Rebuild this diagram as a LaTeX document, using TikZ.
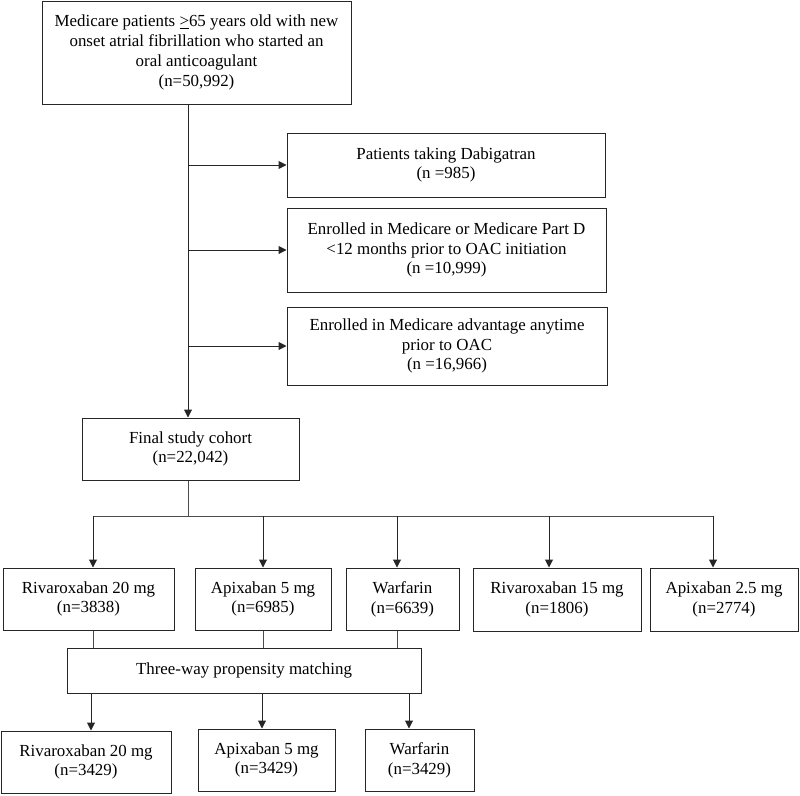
\documentclass[tikz,border=0pt]{standalone}
\usepackage{fontspec}
\setmainfont{Liberation Serif}
\usetikzlibrary{arrows.meta}
\begin{document}
\begin{tikzpicture}[x=1pt,y=-1pt,
  box/.style={draw=black!85,line width=1pt,align=center,inner sep=0pt,
    font=\fontsize{16.9}{19.8}\selectfont},
  arr/.style={draw=black!85,line width=1pt,-{Triangle[length=8pt,width=8pt]}},
  lnk/.style={draw=black!70,line width=1pt}]
\useasboundingbox (0,0) rectangle (800,795);
\newcommand{\bx}[6]{\node[box,minimum width=#4-#2,minimum height=#5-#3] (#1) at ({(#2+#4)/2},{(#3+#5)/2}) {#6};}
\bx{top}{42}{1}{351}{104}{Medicare patients \underline{>}65 years old with new\\onset atrial fibrillation who started an\\oral anticoagulant\\(n=50,992)}
\bx{ex1}{287}{133}{605}{197}{Patients taking Dabigatran\\(n =985)}
\bx{ex2}{287}{208}{606}{292}{Enrolled in Medicare or Medicare Part D\\<12 months prior to OAC initiation\\(n =10,999)}
\bx{ex3}{287}{307}{607}{385}{Enrolled in Medicare advantage anytime\\prior to OAC\\(n =16,966)}
\bx{coh}{82}{418}{299}{480}{Final study cohort\\(n=22,042)}
\bx{r20}{3}{568}{174}{630}{Rivaroxaban 20 mg\\(n=3838)}
\bx{a5}{195}{568}{331}{630}{Apixaban 5 mg\\(n=6985)}
\bx{w}{346}{568}{459}{630}{Warfarin\\(n=6639)}
\bx{r15}{473}{568}{641}{631}{Rivaroxaban 15 mg\\(n=1806)}
\bx{a25}{650}{568}{798}{631}{Apixaban 2.5 mg\\(n=2774)}
\bx{tw}{67}{648}{421}{693}{Three-way propensity matching}
\bx{r20b}{1}{731}{171}{793}{Rivaroxaban 20 mg\\(n=3429)}
\bx{a5b}{198}{729}{335}{791}{Apixaban 5 mg\\(n=3429)}
\bx{wb}{365}{729}{474}{791}{Warfarin\\(n=3429)}
% trunk
\coordinate (trunk) at (188,0);
\draw[arr] (top.south -| trunk) -- (coh.north -| trunk);
\foreach \e in {ex1,ex2,ex3} \draw[arr] (\e.west -| trunk) -- (\e.west);
% bus
\coordinate (d1) at (93,516);
\coordinate (d2) at (263,516);
\coordinate (d3) at (397,516);
\coordinate (d4) at (549,516);
\coordinate (d5) at (713,516);
\draw[lnk] (coh.south -| trunk) -- (d1 -| trunk);
\draw[lnk] (d1) -- (d5);
\draw[arr] (d1) -- (d1 |- r20.north);
\draw[arr] (d2) -- (d2 |- a5.north);
\draw[arr] (d3) -- (d3 |- w.north);
\draw[arr] (d4) -- (d4 |- r15.north);
\draw[arr] (d5) -- (d5 |- a25.north);
% to matching
\draw[lnk] (r20.south -| d1) -- (tw.north -| d1);
\draw[lnk] (a5.south -| d2) -- (tw.north -| d2);
\draw[lnk] (w.south -| d3) -- (tw.north -| d3);
% from matching
\coordinate (e1) at (91,0);
\coordinate (e2) at (262,0);
\coordinate (e3) at (409,0);
\draw[arr] (tw.south -| e1) -- (r20b.north -| e1);
\draw[arr] (tw.south -| e2) -- (a5b.north -| e2);
\draw[arr] (tw.south -| e3) -- (wb.north -| e3);
\end{tikzpicture}
\end{document}
